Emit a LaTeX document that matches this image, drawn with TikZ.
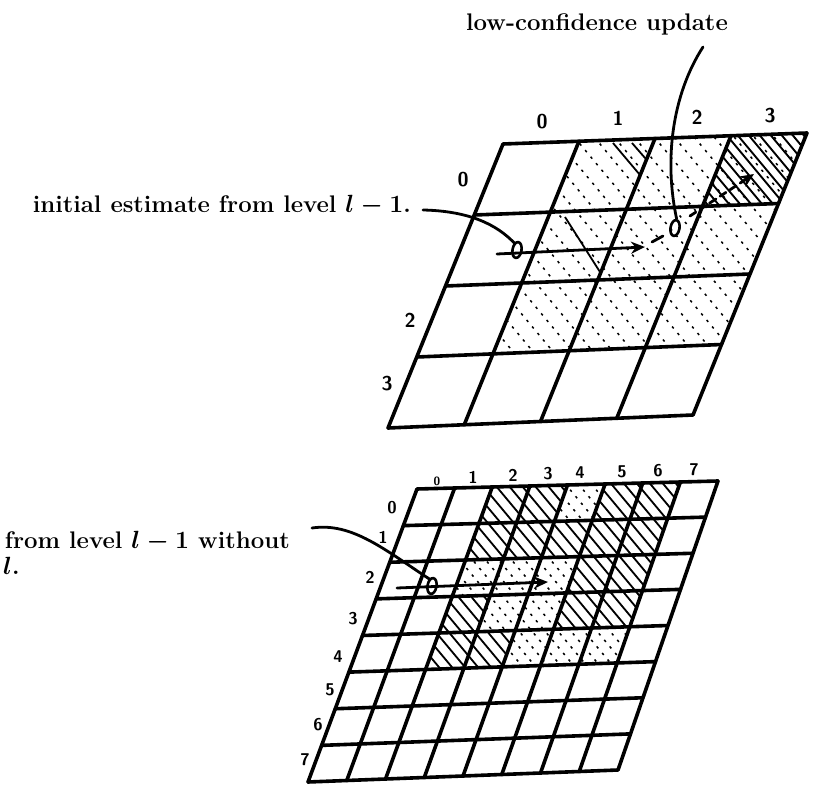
\documentclass[tikz,border=0pt]{standalone}
\usepackage{fontspec}
\usetikzlibrary{calc,arrows.meta,shapes.geometric}
\newcommand\gpt[3]{($ ($(#1A)!#2!(#1B)$)!#3!($(#1C)!#2!(#1D)$) $)}
\newcommand\hatchcell[8]{%
  \begin{scope}
    \pgfmathsetmacro\hUa{#4/#2}\pgfmathsetmacro\hUb{(#4+1)/#2}%
    \pgfmathsetmacro\hVa{#3/#2}\pgfmathsetmacro\hVb{(#3+1)/#2}%
    \clip \gpt{#1}{\hUa}{\hVa} -- \gpt{#1}{\hUb}{\hVa} -- \gpt{#1}{\hUb}{\hVb} -- \gpt{#1}{\hUa}{\hVb} -- cycle;
    \pgfmathsetmacro\hCn{#7+#6}%
    \foreach \k in {#7,\hCn,...,#8} \draw[#5] (\k,0) -- ++(700,840);
  \end{scope}}
\begin{document}
\begin{tikzpicture}[x=1pt,y=-1pt,
  gridline/.style={line width=3.6pt,line cap=round,line join=round},
  hatchsolid/.style={line width=1.8pt},
  hatchlight/.style={line width=1.5pt,dash pattern=on 2.5pt off 6pt},
  hatchdense/.style={line width=1.9pt},
  lbl/.style={font=\fontsize{24}{28}\selectfont\bfseries\boldmath, inner sep=0pt},
  digT/.style={font=\fontsize{20}{22}\selectfont\sffamily\bfseries, inner sep=0pt},
  digB/.style={font=\fontsize{17}{19}\selectfont\sffamily\bfseries, inner sep=0pt},
  zero/.style={ellipse, draw, line width=2.6pt, minimum width=9pt, minimum height=16pt, inner sep=0pt},
  pen/.style={line width=2.8pt, line cap=round},
  tip/.style={-{Stealth[length=14pt,width=12pt]}}
]
\useasboundingbox (0,0) rectangle (820,797);
% grid corners
\coordinate (TA) at (503,144); \coordinate (TB) at (807,133);
\coordinate (TC) at (388,428); \coordinate (TD) at (693,415);
\coordinate (BA) at (417,489); \coordinate (BB) at (718,481);
\coordinate (BC) at (308,782); \coordinate (BD) at (618,770);

% ---- top grid hatching
\foreach \r/\c in {0/1,0/2,0/3,1/1,1/2,1/3,2/1,2/2,2/3}
  {\hatchcell{T}{4}{\r}{\c}{hatchlight}{20}{20}{720}}
\hatchcell{T}{4}{0}{3}{hatchdense}{11}{20}{720}
\begin{scope}
  \clip \gpt{T}{0.25}{0} -- \gpt{T}{0.5}{0} -- \gpt{T}{0.5}{0.5} -- \gpt{T}{0.25}{0.5} -- cycle;
  \draw[hatchsolid] (613,143) -- (667,207);
  \draw[hatchsolid] (632,143) -- (652,166);
  \draw[hatchsolid] (565,217) -- (600,272);
\end{scope}

% ---- bottom grid hatching
\foreach \r/\c in {0/2,0/3,0/5,0/6,1/2,1/3,1/4,1/5,1/6,2/5,2/6,3/2,3/5,3/6,4/2,4/3}
  {\hatchcell{B}{8}{\r}{\c}{hatchsolid}{13}{-364}{330}}
\foreach \r/\c in {0/4,2/2,2/3,2/4,3/3,3/4,4/4,4/5,4/6}
  {\hatchcell{B}{8}{\r}{\c}{hatchlight}{13}{-358}{330}}

% ---- grid lines
\foreach \i in {0,...,4} {
  \pgfmathsetmacro\hF{\i/4}
  \draw[gridline] \gpt{T}{0}{\hF} -- \gpt{T}{1}{\hF};
  \draw[gridline] \gpt{T}{\hF}{0} -- \gpt{T}{\hF}{1};
}
\foreach \i in {0,...,8} {
  \pgfmathsetmacro\hF{\i/8}
  \draw[gridline] \gpt{B}{0}{\hF} -- \gpt{B}{1}{\hF};
  \draw[gridline] \gpt{B}{\hF}{0} -- \gpt{B}{\hF}{1};
}

% ---- grid labels
\node[digT] (tc0) at (542,122) {0};
\node[digT] (tc1) at (618,118) {1};
\node[digT] (tc2) at (697,117) {2};
\node[digT] (tc3) at (770,116) {3};
\node[digT] (tr0) at (463,180) {0};
\node[digT] (tr2) at (410,320) {2};
\node[digT] (tr3) at (387,384) {3};

\node[digB, font=\fontsize{12}{14}\selectfont\sffamily\bfseries] (bc0) at (437,481) {0};
\node[digB] (bc1) at (473,477) {1};
\node[digB] (bc2) at (513,475) {2};
\node[digB] (bc3) at (548,474) {3};
\node[digB] (bc4) at (580,473) {4};
\node[digB] (bc5) at (622,472) {5};
\node[digB] (bc6) at (658,471) {6};
\node[digB] (bc7) at (694,470) {7};
\node[digB] (br0) at (392,508) {0};
\node[digB] (br1) at (383,537) {1};
\node[digB] (br2) at (370,577) {2};
\node[digB] (br3) at (353,619) {3};
\node[digB] (br4) at (338,657) {4};
\node[digB] (br5) at (330,690) {5};
\node[digB] (br6) at (318,725) {6};
\node[digB] (br7) at (305,760) {7};

% ---- texts
\node[lbl] (lab) at (597,24) {low-confidence update};
\node[lbl, anchor=base east] (init) at (411,212) {initial estimate from level $l-1$.};
\node[lbl, anchor=base east] (bot1) at (290,548) {from level $l-1$ without};
\node[lbl, anchor=base west] (bot2) at (3,574) {$l$.};

% ---- estimate marks
\node[zero, rotate=-10] (z1) at (517,250) {};
\node[zero, rotate=-10] (z2) at (675,228) {};
\node[zero, rotate=-10] (z3) at (432,586) {};

% ---- connectors
\coordinate (p1) at (703,47);
\draw[pen] (p1) .. controls (672,95) and (664,160) .. (z2.north);
\coordinate (p2) at (423,210);
\draw[pen] (p2) .. controls (470,211) and (497,225) .. (z1.north west);
\coordinate (a1s) at (497,254); \coordinate (a1e) at (645,247);
\draw[pen,tip] (a1s) -- (a1e);
\coordinate (d1s) at (652,242); \coordinate (d1e) at (663,236);
\draw[pen] (d1s) -- (d1e);
\coordinate (a2s) at (690,216); \coordinate (a2e) at (754,174);
\draw[pen,tip,dash pattern=on 7pt off 5pt] (a2s) -- (a2e);
\coordinate (p3) at (312,528);
\draw[pen] (p3) .. controls (352,522) and (385,550) .. (z3.north west);
\coordinate (a3s) at (397,588); \coordinate (a3e) at (548,582);
\draw[pen,tip] (a3s) -- (a3e);
\end{tikzpicture}
\end{document}
